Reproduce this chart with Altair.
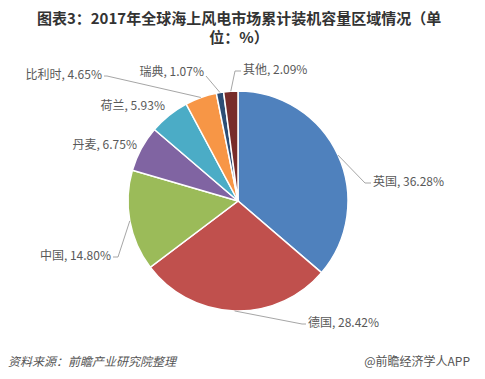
import math
import altair as alt
import pandas as pd

# ---- data ----
countries = ["英国", "德国", "中国", "丹麦", "荷兰", "比利时", "瑞典", "其他"]
shares = [36.28, 28.42, 14.80, 6.75, 5.93, 4.65, 1.07, 2.09]
colors = ["#4F81BD", "#C0504D", "#9BBB59", "#8064A2", "#4BACC6", "#F79646", "#2C4D75", "#772C2A"]

title_lines = ["图表3：2017年全球海上风电市场累计装机容量区域情况（单", "位：%）"]
source_text = "资料来源：前瞻产业研究院整理"
brand_text = "@前瞻经济学人APP"

# ---- layout (chart pixel coords) ----
CX, CY, R = 230, 193, 110
FONT = "Noto Sans CJK SC"
# label anchor (x, y, align), leader elbow and end (None = no leader line)
label_layout = {
    "英国": (365, 174, "left", (357, 175), (363, 175)),
    "德国": (300, 315, "left", (294, 316), (298, 316)),
    "中国": (103, 248, "right", (110, 249), (105, 249)),
    "丹麦": (129, 137, "right", None, None),
    "荷兰": (157, 98, "right", None, None),
    "比利时": (94, 67, "right", (99, 68), (96, 68)),
    "瑞典": (196, 64, "right", (198, 68), (198, 68)),
    "其他": (235, 62, "left", (227, 63), (233, 63)),
}

df = pd.DataFrame({"country": countries, "share": shares, "order": list(range(len(countries)))})
total = sum(shares)

label_rows, line_rows = [], []
cum = 0.0
for c, v in zip(countries, shares):
    mid = (cum + v / 2) / total * 2 * math.pi
    cum += v
    lx, ly, al, elbow, end = label_layout[c]
    label_rows.append({"country": c, "text": f"{c}, {v:.2f}%", "lx": lx, "ly": ly, "align": al})
    if elbow is not None:
        ex = CX + R * math.sin(mid)
        ey = CY - R * math.cos(mid)
        for i, (px, py) in enumerate([(ex, ey), elbow, end]):
            line_rows.append({"country": c, "i": i, "px": px, "py": py})

labels = pd.DataFrame(label_rows)
lines = pd.DataFrame(line_rows)

pie = alt.Chart(df).mark_arc(outerRadius=R, stroke="white", strokeWidth=1.5).encode(
    theta=alt.Theta("share:Q", stack=True),
    order=alt.Order("order:Q"),
    color=alt.Color("country:N", scale=alt.Scale(domain=countries, range=colors), legend=None),
    x=alt.value(CX),
    y=alt.value(CY),
)

leaders = alt.Chart(lines).mark_line(color="#A6A6A6", strokeWidth=1).encode(
    x=alt.X("px:Q", scale=None, axis=None),
    y=alt.Y("py:Q", scale=None, axis=None),
    detail="country:N",
    order="i:Q",
)

def label_layer(al):
    return alt.Chart(labels[labels["align"] == al]).mark_text(
        align=al, baseline="middle", font=FONT, fontSize=12, color="#595959"
    ).encode(
        x=alt.X("lx:Q", scale=None, axis=None),
        y=alt.Y("ly:Q", scale=None, axis=None),
        text="text:N",
    )

title_df = pd.DataFrame({"t": ["\n".join(title_lines)], "ty": [3.5]})
title = alt.Chart(title_df).mark_text(
    align="center", baseline="top", lineBreak="\n", lineHeight=19,
    font=FONT, fontSize=15, fontWeight="bold", color="#333333"
).encode(
    x=alt.value(231),
    y=alt.Y("ty:Q", scale=None, axis=None),
    text="t:N",
)

foot_df = pd.DataFrame({"t": [source_text], "fx": [0]})
foot_left = alt.Chart(foot_df).mark_text(
    align="left", baseline="middle", font=FONT, fontSize=12, fontStyle="italic", color="#555555"
).encode(x=alt.X("fx:Q", scale=None, axis=None), y=alt.value(354), text="t:N")

brand_df = pd.DataFrame({"t": [brand_text], "fx": [462]})
foot_right = alt.Chart(brand_df).mark_text(
    align="right", baseline="middle", font=FONT, fontSize=12, color="#555555"
).encode(x=alt.X("fx:Q", scale=None, axis=None), y=alt.value(354), text="t:N")

chart = alt.layer(
    pie, leaders, label_layer("left"), label_layer("right"), title, foot_left, foot_right
).properties(
    width=469, height=363, padding=0, autosize=alt.AutoSizeParams(type="none"),
    background="white",
).configure_view(stroke=None)

chart.save("out.html", embed_options={"renderer": "svg", "actions": False})
